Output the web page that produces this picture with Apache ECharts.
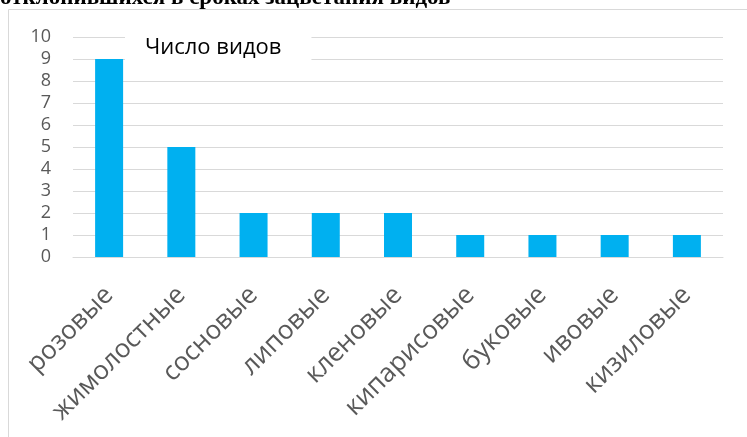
<!DOCTYPE html>
<html>
<head>
<meta charset="utf-8">
<script src="https://cdn.jsdelivr.net/npm/echarts@6/dist/echarts.min.js"></script>
<style>
  html, body { margin: 0; padding: 0; background: #fff; }
  #chart { width: 747px; height: 437px; }
</style>
</head>
<body>
<div id="chart"></div>
<script>
// Plant families and number of species with shifted flowering dates
const families = ['розовые', 'жимолостные', 'сосновые', 'липовые', 'кленовые', 'кипарисовые', 'буковые', 'ивовые', 'кизиловые'];
const speciesCount = [9, 5, 2, 2, 2, 1, 1, 1, 1];
const seriesName = 'Число видов';
const headingText = 'отклонившихся в сроках зацветания видов';

const chart = echarts.init(document.getElementById('chart'), null, { renderer: 'canvas' });

chart.setOption({
  animation: false,
  backgroundColor: '#ffffff',
  title: {
    text: seriesName,
    left: 125,
    top: 35,
    padding: [2, 30, 2, 20],
    backgroundColor: '#ffffff',
    textStyle: {
      fontFamily: 'Open Sans',
      fontSize: 22,
      fontWeight: 'normal',
      color: '#000000'
    }
  },
  graphic: [
    {
      type: 'rect',
      shape: { x: 8.5, y: 9.5, width: 800, height: 500 },
      style: { fill: 'none', stroke: '#d9d9d9', lineWidth: 1 },
      z: 0
    },
    {
      type: 'text',
      x: 0,
      y: -2,
      style: {
        text: headingText,
        font: 'bold 23px "Liberation Serif"',
        fill: '#000000',
        verticalAlign: 'middle'
      }
    }
  ],
  grid: { left: 73, right: 24, top: 37, bottom: 180, containLabel: false },
  xAxis: {
    type: 'category',
    data: families,
    axisLine: { lineStyle: { color: '#d9d9d9', width: 1 } },
    axisTick: { show: false },
    axisLabel: {
      rotate: 45,
      interval: 0,
      margin: 34,
      fontFamily: 'Open Sans',
      fontSize: 26,
      color: '#595959'
    }
  },
  yAxis: {
    type: 'value',
    min: 0,
    max: 10,
    interval: 1,
    axisLine: { show: false },
    axisTick: { show: false },
    splitLine: { lineStyle: { color: '#d9d9d9', width: 1 } },
    axisLabel: {
      margin: 22,
      fontFamily: 'Open Sans',
      fontSize: 18,
      color: '#595959'
    }
  },
  series: [
    {
      name: seriesName,
      type: 'bar',
      data: speciesCount,
      barWidth: 28,
      itemStyle: { color: '#00b0f0' }
    }
  ]
});
</script>
</body>
</html>
